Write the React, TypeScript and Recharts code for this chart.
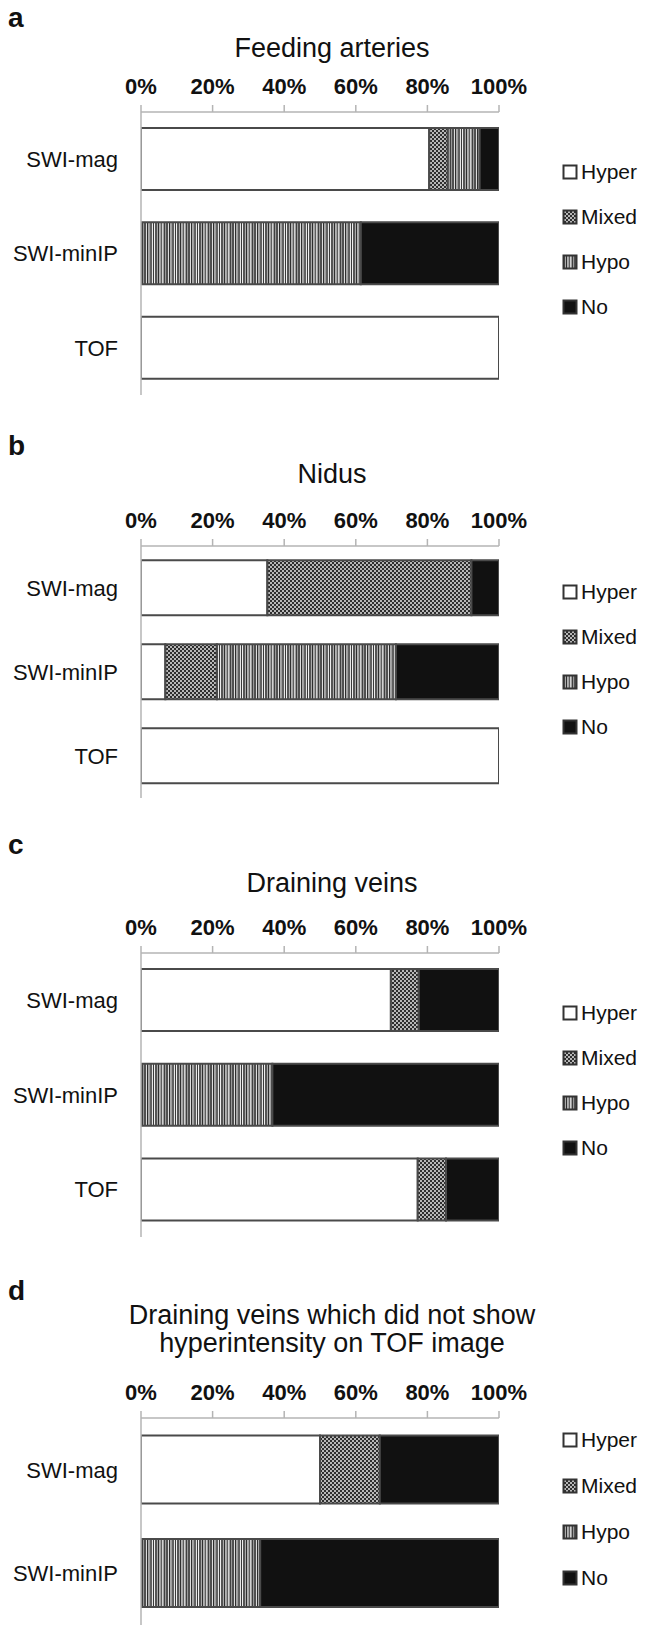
import React from 'react';
import { BarChart, Bar, XAxis, YAxis } from 'recharts';

const categories3 = ['SWI-mag', 'SWI-minIP', 'TOF'];
const categories2 = ['SWI-mag', 'SWI-minIP'];
const percentTicks = [0, 20, 40, 60, 80, 100];
const seriesNames = ['Hyper', 'Mixed', 'Hypo', 'No'];

// a: Feeding arteries
const hyperA = [80.5, 0, 100];
const mixedA = [5.2, 0, 0];
const hypoA = [8.9, 61.4, 0];
const noA = [5.4, 38.6, 0];

// b: Nidus
const hyperB = [35.3, 6.8, 100];
const mixedB = [57.0, 14.4, 0];
const hypoB = [0, 50.0, 0];
const noB = [7.7, 28.8, 0];

// c: Draining veins
const hyperC = [69.8, 0, 77.3];
const mixedC = [7.8, 0, 7.9];
const hypoC = [0, 36.7, 0];
const noC = [22.4, 63.3, 14.8];

// d: Draining veins without TOF hyperintensity
const hyperD = [50.0, 0];
const mixedD = [16.7, 0];
const hypoD = [0, 33.3];
const noD = [33.3, 66.7];

const build = (cats: string[], hyper: number[], mixed: number[], hypo: number[], no: number[]) =>
  cats.map((name, i) => ({ name, Hyper: hyper[i], Mixed: mixed[i], Hypo: hypo[i], No: no[i] }));

const fills: Record<string, string> = {
  Hyper: '#ffffff',
  Mixed: 'url(#pat-mixed)',
  Hypo: 'url(#pat-hypo)',
  No: '#111111',
};

const font = '"Liberation Sans", Arial, Helvetica, sans-serif';

const panels = [
  {
    letter: 'a', letterTop: 4, title: ['Feeding arteries'], titleTop: 34,
    data: build(categories3, hyperA, mixedA, hypoA, noA),
    top: 0, height: 400, marginTop: 72, marginBottom: 5, legendTop: 149, legendStep: 45,
  },
  {
    letter: 'b', letterTop: 432, title: ['Nidus'], titleTop: 460,
    data: build(categories3, hyperB, mixedB, hypoB, noB),
    top: 400, height: 400, marginTop: 106, marginBottom: 2, legendTop: 569, legendStep: 45,
  },
  {
    letter: 'c', letterTop: 831, title: ['Draining veins'], titleTop: 869,
    data: build(categories3, hyperC, mixedC, hypoC, noC),
    top: 800, height: 440, marginTop: 113, marginBottom: 3, legendTop: 990, legendStep: 45,
  },
  {
    letter: 'd', letterTop: 1277, title: ['Draining veins which did not show', 'hyperintensity on TOF image'], titleTop: 1301,
    data: build(categories2, hyperD, mixedD, hypoD, noD),
    top: 1240, height: 385, marginTop: 138, marginBottom: 0, legendTop: 1417, legendStep: 46,
  },
];

const hypoStripes = [
  [0, 1, '#eeeeee'], [1, 2, '#555555'], [3, 1, '#aaaaaa'], [4, 1.5, '#2e2e2e'],
  [5.5, 1, '#cccccc'], [6.5, 2, '#5e5e5e'], [8.5, 1, '#f2f2f2'], [9.5, 1.5, '#404040'],
  [11, 1, '#999999'], [12, 2, '#505050'], [14, 1, '#dddddd'], [15, 1.5, '#2e2e2e'],
  [16.5, 1, '#bbbbbb'], [17.5, 2.5, '#606060'], [20, 1, '#e6e6e6'], [21, 1, '#3a3a3a'],
];

const Patterns = () => (
  <svg width={0} height={0} style={{ position: 'absolute' }}>
    <defs>
      <pattern id="pat-mixed" width={4} height={4} patternUnits="userSpaceOnUse">
        <rect width={4} height={4} fill="#2e2e2e" />
        <circle cx={1} cy={1} r={0.95} fill="#f2f2f2" />
        <circle cx={3} cy={3} r={0.95} fill="#f2f2f2" />
      </pattern>
      <pattern id="pat-hypo" width={22} height={4} patternUnits="userSpaceOnUse">
        {hypoStripes.map(([x, w, c], i) => (
          <rect key={i} x={x as number} y={0} width={w as number} height={4} fill={c as string} />
        ))}
      </pattern>
    </defs>
  </svg>
);

const LegendBox = ({ top, step }: { top: number; step: number }) => (
  <div style={{ position: 'absolute', left: 562, top }}>
    {seriesNames.map((s) => (
      <div key={s} style={{ height: step, display: 'flex', alignItems: 'center' }}>
        <svg width={16} height={16} style={{ marginRight: 3 }}>
          <rect x={1.5} y={1.5} width={13} height={13} fill={fills[s]} stroke="#333" strokeWidth={2} />
        </svg>
        <span style={{ fontFamily: font, fontSize: 21, color: '#111' }}>{s}</span>
      </div>
    ))}
  </div>
);

const Panel = ({ p }: { p: (typeof panels)[number] }) => (
  <>
    <div style={{ position: 'absolute', left: 8, top: p.letterTop, fontFamily: font, fontWeight: 700, fontSize: 28, lineHeight: 1, color: '#111' }}>
      {p.letter}
    </div>
    <div
      style={{
        position: 'absolute', left: 332, top: p.titleTop, transform: 'translateX(-50%)',
        fontFamily: font, fontSize: 27, lineHeight: '28px', textAlign: 'center', whiteSpace: 'nowrap', color: '#111',
      }}
    >
      {p.title.map((t) => (
        <div key={t}>{t}</div>
      ))}
    </div>
    <div style={{ position: 'absolute', left: 0, top: p.top }}>
      <BarChart
        width={646}
        height={p.height}
        data={p.data}
        layout="vertical"
        barCategoryGap="17%"
        margin={{ top: p.marginTop, right: 147, bottom: p.marginBottom, left: 0 }}
      >
        <XAxis
          type="number"
          orientation="top"
          domain={[0, 100]}
          allowDataOverflow
          ticks={percentTicks}
          tickFormatter={(v) => `${v}%`}
          height={40}
          tickSize={7}
          tickMargin={11}
          axisLine={{ stroke: '#b4b4b4', strokeWidth: 1.5 }}
          tickLine={{ stroke: '#b4b4b4', strokeWidth: 1.5 }}
          tick={{ fill: '#111', fontSize: 22, fontWeight: 700, fontFamily: font }}
        />
        <YAxis
          type="category"
          dataKey="name"
          width={141}
          tickLine={false}
          tickSize={0}
          tickMargin={23}
          axisLine={{ stroke: '#b4b4b4', strokeWidth: 1.5 }}
          tick={{ fill: '#111', fontSize: 22, fontFamily: font }}
        />
        {seriesNames.map((s) => (
          <Bar key={s} dataKey={s} stackId="all" fill={fills[s]} stroke="#4a4a4a" strokeWidth={2} isAnimationActive={false} />
        ))}
      </BarChart>
    </div>
    <LegendBox top={p.legendTop} step={p.legendStep} />
  </>
);

export default function App() {
  return (
    <div style={{ position: 'absolute', left: 0, top: 0, width: 646, height: 1625, background: '#fff', overflow: 'hidden' }}>
      <Patterns />
      {panels.map((p) => (
        <Panel key={p.letter} p={p} />
      ))}
    </div>
  );
}
